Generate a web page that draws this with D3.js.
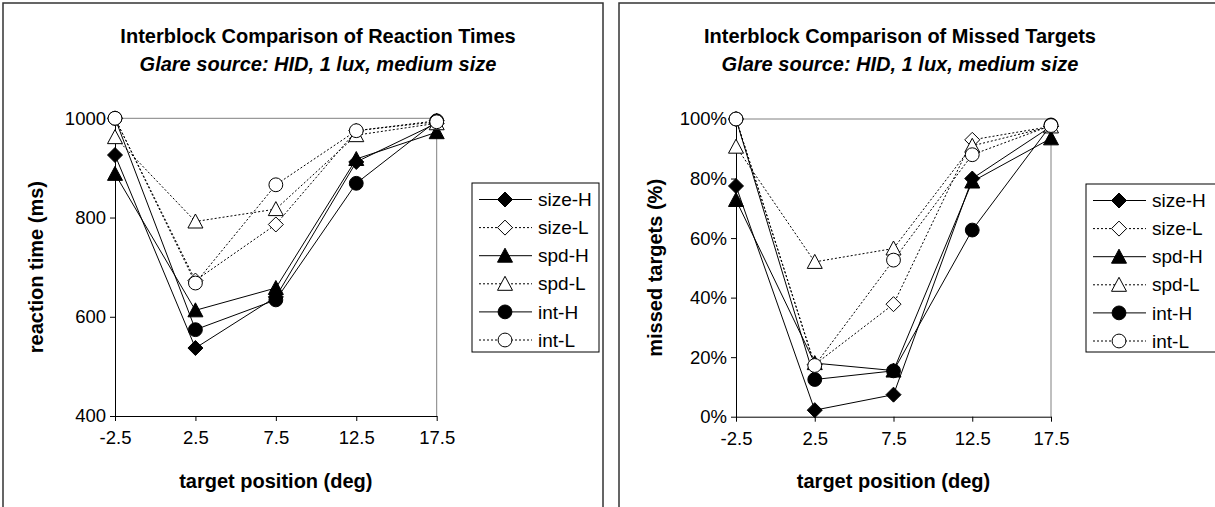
<!DOCTYPE html>
<html>
<head>
<meta charset="utf-8">
<script src="https://cdn.jsdelivr.net/npm/d3@7"></script>
<style>
  html, body { margin: 0; padding: 0; background: #fff; }
  svg { display: block; font-family: "Liberation Sans", Arial, sans-serif; }
</style>
</head>
<body>
<svg id="chart" width="1215" height="507"></svg>
<script>
// Target positions (deg) shared by both panels
const positions = [-2.5, 2.5, 7.5, 12.5, 17.5];
const positionLabels = ["-2.5", "2.5", "7.5", "12.5", "17.5"];

// Series names (H = high, L = low condition)
const seriesNames = ["size-H", "size-L", "spd-H", "spd-L", "int-H", "int-L"];

// Reaction times (ms)
const rtSizeH = [926, 537, 640, 912, 990];
const rtSizeL = [1000, 673, 786, 975, 995];
const rtSpdH  = [888, 613, 658, 918, 972];
const rtSpdL  = [962, 792, 817, 966, 990];
const rtIntH  = [1000, 574, 634, 869, 995];
const rtIntL  = [1000, 668, 866, 975, 993];
const rtTicks = [400, 600, 800, 1000];

// Missed targets (fraction)
const mtSizeH = [0.775, 0.022, 0.074, 0.800, 0.975];
const mtSizeL = [1.000, 0.175, 0.378, 0.930, 0.975];
const mtSpdH  = [0.728, 0.180, 0.155, 0.790, 0.935];
const mtSpdL  = [0.907, 0.520, 0.565, 0.910, 0.975];
const mtIntH  = [1.000, 0.125, 0.154, 0.627, 0.980];
const mtIntL  = [1.000, 0.172, 0.526, 0.880, 0.978];
const mtTicks = [0, 0.2, 0.4, 0.6, 0.8, 1.0];

// Marker / line style per series
const styles = {
  "size-H": { shape: "diamond",  filled: true,  dash: null },
  "size-L": { shape: "diamond",  filled: false, dash: "2,2" },
  "spd-H":  { shape: "triangle", filled: true,  dash: null },
  "spd-L":  { shape: "triangle", filled: false, dash: "2,2" },
  "int-H":  { shape: "circle",   filled: true,  dash: null },
  "int-L":  { shape: "circle",   filled: false, dash: "2,2" }
};

const svg = d3.select("#chart");

function markerPath(shape) {
  if (shape === "diamond") return "M0,-7.5L7.5,0L0,7.5L-7.5,0Z";
  if (shape === "triangle") return "M0,-7.5L7.5,6.5L-7.5,6.5Z";
  return d3.symbol(d3.symbolCircle, 150)();
}

function drawMarker(g, shape, filled) {
  g.append("path")
    .attr("d", markerPath(shape))
    .attr("fill", filled ? "#000" : "#fff")
    .attr("stroke", "#000")
    .attr("stroke-width", 1);
}

function drawPanel(cfg) {
  const g = svg.append("g");

  // panel frame
  g.append("rect")
    .attr("x", cfg.frame[0]).attr("y", cfg.frame[1])
    .attr("width", cfg.frame[2]).attr("height", cfg.frame[3])
    .attr("fill", "none").attr("stroke", "#333").attr("stroke-width", 1.5);

  // titles
  g.append("text").attr("x", cfg.titleX).attr("y", 43)
    .attr("text-anchor", "middle").attr("font-size", 20).attr("font-weight", "bold")
    .text(cfg.title);
  g.append("text").attr("x", cfg.titleX).attr("y", 71)
    .attr("text-anchor", "middle").attr("font-size", 20).attr("font-weight", "bold")
    .attr("font-style", "italic")
    .text(cfg.subtitle);

  const x = d3.scalePoint().domain(positions).range([cfg.left, cfg.right]);
  const y = d3.scaleLinear().domain(cfg.yDomain).range([cfg.bottom, cfg.top]);

  // plot area outline (top & right in grey)
  g.append("path")
    .attr("d", `M${cfg.left},${cfg.top}H${cfg.right}V${cfg.bottom}`)
    .attr("fill", "none").attr("stroke", "#808080").attr("stroke-width", 1);

  // y axis
  const yAxis = d3.axisLeft(y).tickValues(cfg.yTicks).tickFormat(cfg.yFormat)
    .tickSizeInner(5).tickSizeOuter(0).tickPadding(4);
  const ya = g.append("g").attr("transform", `translate(${cfg.left},0)`).call(yAxis);
  ya.selectAll("text").attr("font-size", 18.5).attr("fill", "#000")
    .attr("font-family", "Liberation Sans, Arial, sans-serif");
  ya.selectAll("line, path").attr("stroke", "#000");

  // x axis
  const xAxis = d3.axisBottom(x).tickFormat((d, i) => positionLabels[i])
    .tickSizeInner(5).tickSizeOuter(0).tickPadding(10);
  const xa = g.append("g").attr("transform", `translate(0,${cfg.bottom})`).call(xAxis);
  xa.selectAll("text").attr("font-size", 18.5).attr("fill", "#000")
    .attr("font-family", "Liberation Sans, Arial, sans-serif");
  xa.selectAll("line, path").attr("stroke", "#000");

  // axis titles
  g.append("text").attr("x", (cfg.left + cfg.right) / 2).attr("y", 488)
    .attr("text-anchor", "middle").attr("font-size", 20).attr("font-weight", "bold")
    .text("target position (deg)");
  g.append("text")
    .attr("transform", `translate(${cfg.yTitleX},${(cfg.top + cfg.bottom) / 2}) rotate(-90)`)
    .attr("text-anchor", "middle").attr("font-size", 20).attr("font-weight", "bold")
    .text(cfg.yTitle);

  // series
  const line = d3.line().x((d, i) => x(positions[i])).y(d => y(d));
  seriesNames.forEach((name, k) => {
    const vals = cfg.series[k];
    const st = styles[name];
    const sg = g.append("g");
    sg.append("path").attr("d", line(vals))
      .attr("fill", "none").attr("stroke", "#000").attr("stroke-width", 1)
      .attr("stroke-dasharray", st.dash);
    vals.forEach((v, i) => {
      const mg = sg.append("g").attr("transform", `translate(${x(positions[i])},${y(v)})`);
      drawMarker(mg, st.shape, st.filled);
    });
  });

  // legend
  const L = cfg.legend;
  const lg = g.append("g");
  lg.append("rect").attr("x", L.x).attr("y", L.y).attr("width", L.w).attr("height", L.h)
    .attr("fill", "#fff").attr("stroke", "#000").attr("stroke-width", 1);
  seriesNames.forEach((name, k) => {
    const st = styles[name];
    const cy = L.y + 16.5 + k * 28.1;
    lg.append("line").attr("x1", L.x + 7).attr("x2", L.x + 60)
      .attr("y1", cy).attr("y2", cy)
      .attr("stroke", "#000").attr("stroke-width", 1).attr("stroke-dasharray", st.dash);
    drawMarker(lg.append("g").attr("transform", `translate(${L.x + 33},${cy})`), st.shape, st.filled);
    lg.append("text").attr("x", L.x + 66).attr("y", cy).attr("dy", "0.35em")
      .attr("font-size", 19).text(name);
  });
}

drawPanel({
  frame: [3, 3, 600, 520],
  title: "Interblock Comparison of Reaction Times",
  subtitle: "Glare source: HID, 1 lux, medium size",
  titleX: 318,
  left: 115, right: 436.7, top: 118.3, bottom: 416,
  yDomain: [400, 1000], yTicks: rtTicks, yFormat: d3.format("d"),
  yTitle: "reaction time (ms)", yTitleX: 43,
  series: [rtSizeH, rtSizeL, rtSpdH, rtSpdL, rtIntH, rtIntL],
  legend: { x: 472, y: 183, w: 127, h: 169 }
});

drawPanel({
  frame: [619, 3, 620, 520],
  title: "Interblock Comparison of Missed Targets",
  subtitle: "Glare source: HID, 1 lux, medium size",
  titleX: 900,
  left: 736, right: 1051, top: 119, bottom: 416.7,
  yDomain: [0, 1], yTicks: mtTicks, yFormat: d3.format(".0%"),
  yTitle: "missed targets (%)", yTitleX: 662,
  series: [mtSizeH, mtSizeL, mtSpdH, mtSpdL, mtIntH, mtIntL],
  legend: { x: 1086, y: 184, w: 140, h: 168 }
});
</script>
</body>
</html>
